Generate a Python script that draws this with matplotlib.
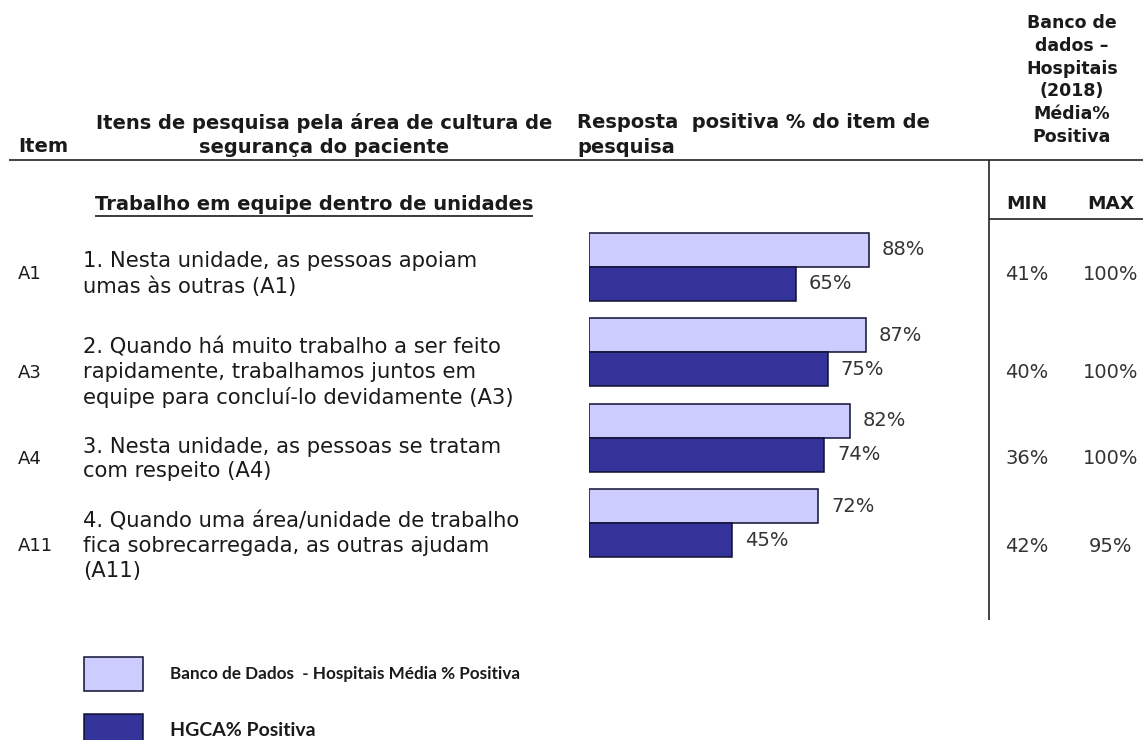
import matplotlib.pyplot as plt

# survey items and results (% positive)
items = ["A1", "A3", "A4", "A11"]
questions = [
    "1. Nesta unidade, as pessoas apoiam\numas às outras (A1)",
    "2. Quando há muito trabalho a ser feito\nrapidamente, trabalhamos juntos em\nequipe para concluí-lo devidamente (A3)",
    "3. Nesta unidade, as pessoas se tratam\ncom respeito (A4)",
    "4. Quando uma área/unidade de trabalho\nfica sobrecarregada, as outras ajudam\n(A11)",
]
banco_media = [88, 87, 82, 72]
hgca = [65, 75, 74, 45]
banco_min = [41, 40, 36, 42]
banco_max = [100, 100, 100, 95]

section = "Trabalho em equipe dentro de unidades"
legend_labels = ["Banco de Dados  - Hospitais Média % Positiva", "HGCA% Positiva"]

LIGHT = "#CCCCFF"
DARK = "#333399"
INK = "#1a1a1a"

W, H = 1143, 740
fig = plt.figure(figsize=(W / 100, H / 100), dpi=100)
fig.patch.set_facecolor("white")

# full-figure layer in pixel units for the table text and rules
lay = fig.add_axes([0, 0, 1, 1])
lay.set_xlim(0, W)
lay.set_ylim(H, 0)
lay.axis("off")

# column headers
hdr = dict(fontsize=14, fontweight="bold", color=INK)
lay.text(18, 147, "Item", ha="left", va="center", **hdr)
lay.text(324, 135, "Itens de pesquisa pela área de cultura de\nsegurança do paciente",
         ha="center", va="center", linespacing=1.36, **hdr)
lay.text(577, 135, "Resposta  positiva % do item de\npesquisa",
         ha="left", va="center", linespacing=1.36, **hdr)
lay.text(1072, 80, "Banco de\ndados –\nHospitais\n(2018)\nMédia%\nPositiva",
         ha="center", va="center", linespacing=1.33, fontsize=12.5,
         fontweight="bold", color=INK)
lay.text(1027, 204, "MIN", ha="center", va="center", fontsize=13.3,
         fontweight="bold", color=INK)
lay.text(1111, 204, "MAX", ha="center", va="center", fontsize=13.3,
         fontweight="bold", color=INK)

# table rules
lay.plot([9, W], [160, 160], color="#222222", lw=1.2, solid_capstyle="butt")
lay.plot([989, 989], [160, 620], color="#222222", lw=1.2, solid_capstyle="butt")
lay.plot([989, W], [219, 219], color="#222222", lw=1.2, solid_capstyle="butt")

# underlined section title
sec = lay.text(95, 204, section, ha="left", va="center", **hdr)
fig.canvas.draw()
bb = sec.get_window_extent()
(x0, _), (x1, _) = lay.transData.inverted().transform([[bb.x0, 0], [bb.x1, 0]])
lay.plot([x0, x1], [216, 216], color=INK, lw=1.2, solid_capstyle="butt")

# item rows
row_y = [274, 373, 459, 546]
for y, code, q, lo, hi in zip(row_y, items, questions, banco_min, banco_max):
    lay.text(18, y, code, ha="left", va="center", fontsize=13, color=INK)
    lay.text(83, y, q, ha="left", va="center", fontsize=15.2,
             linespacing=1.3, color=INK)
    lay.text(1027, y, f"{lo}%", ha="center", va="center", fontsize=14, color="#333333")
    lay.text(1111, y, f"{hi}%", ha="center", va="center", fontsize=14, color="#333333")

# bar panel: 0-100 % mapped onto the response column
left_px, right_px = 589, 907
top_px, bot_px = 224, 566
ax = fig.add_axes([left_px / W, 1 - bot_px / H,
                   (right_px - left_px) / W, (bot_px - top_px) / H])
ax.set_xlim(0, 100)
ax.set_ylim(len(items) - 0.5, -0.5)
ax.axis("off")

pos = list(range(len(items)))
h = 0.4
b1 = ax.barh([p - h / 2 for p in pos], banco_media, height=h, color=LIGHT,
             edgecolor="#111133", linewidth=1.1, label=legend_labels[0])
b2 = ax.barh([p + h / 2 for p in pos], hgca, height=h, color=DARK,
             edgecolor="#111133", linewidth=1.1, label=legend_labels[1])

for p, v in zip(pos, banco_media):
    ax.annotate(f"{v}%", (v, p - h / 2), xytext=(13, 0), textcoords="offset pixels",
                ha="left", va="center", fontsize=14, color="#333333")
for p, v in zip(pos, hgca):
    ax.annotate(f"{v}%", (v, p + h / 2), xytext=(13, 0), textcoords="offset pixels",
                ha="left", va="center", fontsize=14, color="#333333")

# legend at the bottom left
leg = fig.legend(handles=[b1, b2], labels=legend_labels, loc="upper left",
                 bbox_to_anchor=(84 / W, 1 - 657 / H), frameon=False,
                 borderpad=0, borderaxespad=0, handlelength=3.45,
                 handleheight=2.67, handletextpad=1.58, labelspacing=1.35,
                 prop={"family": "Lato", "weight": "bold", "size": 12.3})
leg.get_texts()[1].set_fontsize(14)
for t in leg.get_texts():
    t.set_color(INK)

fig.savefig("out.png", dpi=100, facecolor="white")
